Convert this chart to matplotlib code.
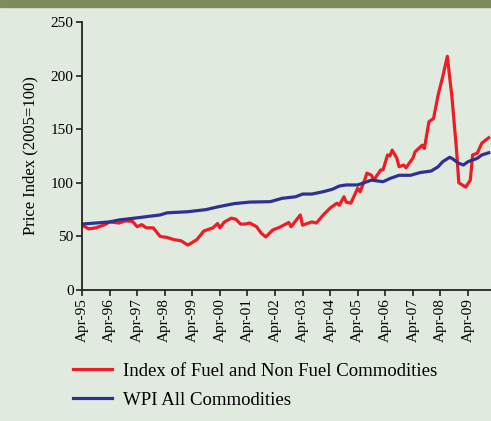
import matplotlib
matplotlib.use("Agg")
from matplotlib import pyplot as plt
from matplotlib.patches import Rectangle


# Data (months since Apr-95)
fuel_months = [0, 3, 6, 10, 12, 16, 19, 22, 24, 26, 28, 31, 34, 37, 40, 43, 46, 47, 50, 53,
               57, 59, 60, 62, 65, 67, 69, 71, 73, 76, 78, 80, 83, 86, 90, 91, 95, 96, 100, 102,
               105, 108, 111, 112, 114, 115, 117, 120, 121, 123, 124, 126, 127, 130, 131, 133, 134, 135, 137, 138,
               140, 141, 144, 145, 148, 149, 151, 153, 155, 157, 159, 161, 163, 164, 167, 169, 170, 172, 174, 177]
fuel_values = [60.5, 57, 58, 61, 63.5, 62.5, 64.5, 64, 59, 61, 58, 58, 50, 49, 47, 46, 42, 43, 47, 55,
               58, 62, 58, 63.5, 67, 66, 61.5, 61.5, 62.5, 59, 53, 49.5, 56, 58.5, 63, 59, 70, 60.5, 63.5, 62.5,
               70, 76.5, 81, 79, 87, 82, 81, 95, 91.5, 102.5, 109, 107, 102.5, 112, 112, 126, 125, 130.5, 123, 115,
               116.5, 114, 123, 129, 135, 132, 157, 160, 182, 199, 218, 180, 130.5, 100, 96, 102.5, 126, 127.5, 137, 142]

wpi_months = [0, 12, 16, 22, 34, 37, 46, 54, 59, 66, 73, 82, 87, 93, 96, 100, 105, 109, 112, 115,
              120, 124, 126, 131, 134, 138, 143, 147, 152, 155, 157, 160, 161, 164, 166, 168, 172, 174, 177]
wpi_values = [61.5, 63.5, 65.3, 66.8, 70, 72, 73, 75, 77.5, 80.5, 82, 82.4, 85.5, 87, 89.5, 89.5, 91.7, 94, 97, 98,
              98, 101, 102.5, 101, 104, 107, 107, 109.5, 111, 115, 119.7, 123.8, 122.8, 118.2, 116.6, 119.7, 122.8, 126, 128]

tick_months = list(range(0, 169, 12))
tick_labels = ["Apr-%02d" % (y % 100) for y in range(1995, 2010)]

bg = "#e1eadf"
plt.rcParams["font.family"] = ["Liberation Serif", "DejaVu Serif"]

fig = plt.figure(figsize=(4.91, 4.21), dpi=100, facecolor=bg)
fig.patches.append(Rectangle((0, 1 - 7 / 421), 1, 7 / 421, transform=fig.transFigure,
                             color="#7e8c5c", zorder=0))

ax = fig.add_axes([82 / 491, 1 - 290 / 421, 1 - 82 / 491, 268 / 421])
ax.set_facecolor(bg)

ax.plot(fuel_months, fuel_values, color="#ee1c25", lw=2.3, label="Index of Fuel and Non Fuel Commodities")
ax.plot(wpi_months, wpi_values, color="#2e3192", lw=2.3, label="WPI All Commodities")

ax.set_xlim(0, 178)
ax.set_ylim(0, 250)
ax.set_yticks(range(0, 251, 50))
ax.set_xticks(tick_months)
ax.set_xticklabels(tick_labels, rotation=90)
ax.tick_params(labelsize=11, color="#222222", length=4, width=1.2, pad=2)
ax.set_ylabel("Price Index (2005=100)", fontsize=12, labelpad=9)

for side in ["top", "right"]:
    ax.spines[side].set_visible(False)
for side in ["left", "bottom"]:
    ax.spines[side].set_color("#222222")
    ax.spines[side].set_linewidth(1.3)

fig.legend(loc="upper left", bbox_to_anchor=(56 / 491, 1 - 346 / 421), frameon=False,
           fontsize=13.5, handlelength=2.1, handletextpad=0.55, labelspacing=0.61)

fig.savefig("out.png", dpi=100, facecolor=bg)
